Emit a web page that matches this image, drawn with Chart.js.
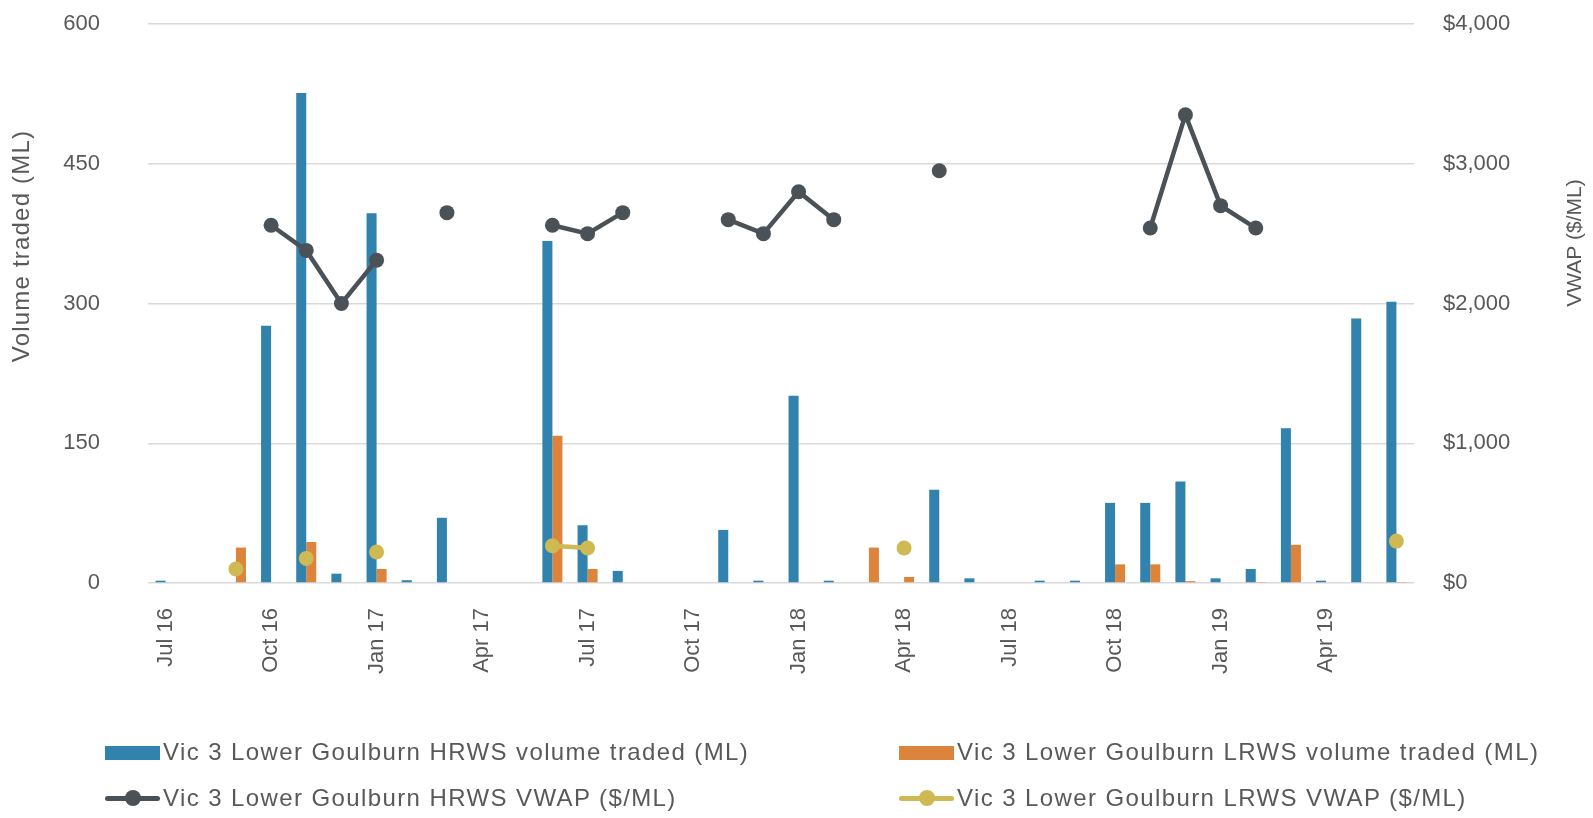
<!DOCTYPE html>
<html>
<head>
<meta charset="utf-8">
<script src="https://cdn.jsdelivr.net/npm/chart.js@4/dist/chart.umd.min.js"></script>
<style>
  body { margin: 0; background: #fff; }
  #wrap { position: relative; width: 1593px; height: 818px; font-family: "Liberation Sans", Arial, sans-serif; color: #595959; }
  #chart { position: absolute; left: 0; top: 0; }
  .leg { position: absolute; font-size: 24px; letter-spacing: 1.4px; white-space: nowrap; line-height: 28px; }
  .leg .box { position: absolute; left: -58px; top: 8px; width: 55px; height: 14px; }
  .leg .ln { position: absolute; left: -58px; top: 12px; width: 55px; height: 5px; border-radius: 3px; }
  .leg .dot { position: absolute; left: -38px; top: 6px; width: 16px; height: 16px; border-radius: 50%; }
</style>
</head>
<body>
<div id="wrap">
  <canvas id="chart" width="1593" height="818"></canvas>
  <div id="legend"></div>
</div>
<script>
// months Jul 16 .. Jun 19
const months = [
  "Jul 16", "Aug 16", "Sep 16", "Oct 16", "Nov 16", "Dec 16",
  "Jan 17", "Feb 17", "Mar 17", "Apr 17", "May 17", "Jun 17",
  "Jul 17", "Aug 17", "Sep 17", "Oct 17", "Nov 17", "Dec 17",
  "Jan 18", "Feb 18", "Mar 18", "Apr 18", "May 18", "Jun 18",
  "Jul 18", "Aug 18", "Sep 18", "Oct 18", "Nov 18", "Dec 18",
  "Jan 19", "Feb 19", "Mar 19", "Apr 19", "May 19", "Jun 19"
];

// volumes (ML)
const hrwsVolume = [
  2.5, null, null, 276, 526, 10,
  397, 3, 70, null, null, 367,
  62, 13, null, null, 57, 2.5,
  201, 2.5, null, null, 100, 5,
  null, 2.5, 2.5, 86, 86, 109,
  5, 15, 166, 2.5, 284, 302
];
const lrwsVolume = [
  null, null, 38, null, 44, null,
  15, null, null, null, null, 158,
  15, null, null, null, null, null,
  null, null, 38, 6.5, null, null,
  null, null, null, 20, 20, 2,
  null, 0.5, 41, null, null, 0.5
];

// VWAP ($/ML)
const hrwsVwap = [
  null, null, null, 2560, 2380, 2000,
  2310, null, 2650, null, null, 2560,
  2500, 2650, null, null, 2600, 2500,
  2800, 2600, null, null, 2950, null,
  null, null, null, null, 2540, 3350,
  2700, 2540, null, null, null, null
];
const lrwsVwap = [
  null, null, 100, null, 176, null,
  222, null, null, null, null, 267,
  250, null, null, null, null, null,
  null, null, null, 250, null, null,
  null, null, null, null, null, null,
  null, null, null, null, null, 300
];

const volTicks = [0, 150, 300, 450, 600];
const vwapTicks = [0, 1000, 2000, 3000, 4000];

const labelColor = "#595959";
const gridColor = "#d9d9d9";
const fontFamily = "'Liberation Sans', Arial, sans-serif";

const series = [
  { label: "Vic 3 Lower Goulburn HRWS volume traded (ML)", type: "bar", data: hrwsVolume, color: "#3182ac" },
  { label: "Vic 3 Lower Goulburn LRWS volume traded (ML)", type: "bar", data: lrwsVolume, color: "#dd843c" },
  { label: "Vic 3 Lower Goulburn HRWS VWAP ($/ML)", type: "line", data: hrwsVwap, color: "#4a5258" },
  { label: "Vic 3 Lower Goulburn LRWS VWAP ($/ML)", type: "line", data: lrwsVwap, color: "#cfb953" }
];

const datasets = series.map((s) => {
  if (s.type === "bar") {
    return {
      type: "bar",
      label: s.label,
      data: s.data,
      yAxisID: "y",
      backgroundColor: s.color,
      categoryPercentage: 0.57,
      barPercentage: 1.0,
      order: 2
    };
  }
  return {
    type: "line",
    label: s.label,
    data: s.data,
    yAxisID: "y1",
    borderColor: s.color,
    backgroundColor: s.color,
    borderWidth: 4.5,
    pointRadius: 7.5,
    pointBorderWidth: 0,
    spanGaps: false,
    tension: 0,
    order: 1
  };
});

// axis titles drawn by hand (Excel rotates both the same way)
function drawTitle(ctx, text, x, y, size, spacing) {
  ctx.save();
  ctx.fillStyle = labelColor;
  ctx.font = size + "px " + fontFamily;
  ctx.letterSpacing = spacing + "px";
  ctx.textAlign = "center";
  ctx.textBaseline = "middle";
  ctx.translate(x, y);
  ctx.rotate(-Math.PI / 2);
  ctx.fillText(text, 0, 0);
  ctx.restore();
}

const axisTitles = {
  id: "axisTitles",
  afterDraw(chart) {
    drawTitle(chart.ctx, "Volume traded (ML)", 22, 246, 24, 1.2);
    drawTitle(chart.ctx, "VWAP ($/ML)", 1575, 243, 21, 0);
  }
};

// tick padding on a vertical axis also pads its top; undo that
function fixVertical(width) {
  return (s) => {
    s.width = width;
    s.paddingTop = 12;
    s.paddingBottom = 12;
  };
}

new Chart(document.getElementById("chart"), {
  data: { labels: months, datasets: datasets },
  plugins: [axisTitles],
  options: {
    responsive: false,
    animation: false,
    layout: { padding: { top: 24, left: 0, right: 0, bottom: 0 } },
    plugins: { legend: { display: false }, tooltip: { enabled: false } },
    scales: {
      x: {
        grid: { display: false },
        border: { display: false },
        ticks: {
          autoSkip: false,
          maxRotation: 90,
          minRotation: 90,
          padding: 17,
          color: labelColor,
          font: { family: fontFamily, size: 22 },
          callback: (v, i) => (i % 3 === 0 ? months[i] : "")
        },
        afterFit: (s) => { s.height = 235; }
      },
      y: {
        position: "left",
        min: 0,
        max: 600,
        afterBuildTicks: (s) => { s.ticks = volTicks.map((v) => ({ value: v })); },
        grid: { color: gridColor, lineWidth: 1.5, drawTicks: false },
        border: { display: false },
        ticks: {
          padding: 48,
          color: labelColor,
          font: { family: fontFamily, size: 22 }
        },
        afterFit: fixVertical(148)
      },
      y1: {
        position: "right",
        min: 0,
        max: 4000,
        afterBuildTicks: (s) => { s.ticks = vwapTicks.map((v) => ({ value: v })); },
        grid: { display: false, drawTicks: false },
        border: { display: false },
        ticks: {
          padding: 29,
          color: labelColor,
          font: { family: fontFamily, size: 22 },
          callback: (v) => "$" + v.toLocaleString("en-US")
        },
        afterFit: fixVertical(179)
      }
    }
  }
});

// legend, two columns
const legendPos = [
  { x: 163, y: 738 }, { x: 957, y: 738 },
  { x: 163, y: 784 }, { x: 957, y: 784 }
];
const legendEl = document.getElementById("legend");
series.forEach((s, i) => {
  const item = document.createElement("div");
  item.className = "leg";
  item.style.left = legendPos[i].x + "px";
  item.style.top = legendPos[i].y + "px";
  if (s.type === "bar") {
    item.innerHTML = '<span class="box" style="background:' + s.color + '"></span>';
  } else {
    item.innerHTML = '<span class="ln" style="background:' + s.color + '"></span>' +
      '<span class="dot" style="background:' + s.color + '"></span>';
  }
  item.appendChild(document.createTextNode(s.label));
  legendEl.appendChild(item);
});
</script>
</body>
</html>
